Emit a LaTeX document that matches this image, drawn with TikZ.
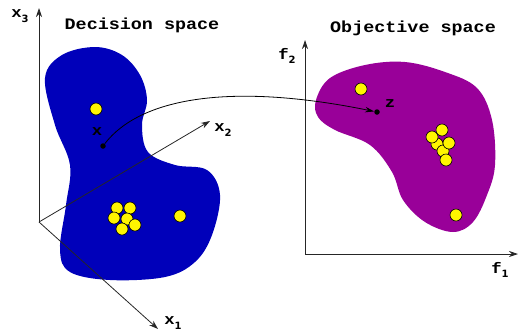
\documentclass[tikz,border=0pt]{standalone}
\usepackage{fontspec}
\setmainfont{Liberation Mono}
\newfontfamily\labfont[FakeStretch=1.15]{Liberation Mono}
\newfontfamily\subfont{DejaVu Sans}
\usetikzlibrary{arrows.meta,positioning,calc}
\definecolor{decblue}{RGB}{0,0,186}
\definecolor{objpurple}{RGB}{153,0,153}
\definecolor{ptyellow}{RGB}{255,245,0}
\tikzset{
  axisln/.style={-{Stealth[length=9pt,width=6pt]}, line width=0.8pt, black!85},
  mapln/.style={-{Stealth[length=9pt,width=5.5pt]}, line width=0.8pt},
  sol/.style={circle, fill=ptyellow, draw=black, line width=0.6pt, minimum size=12pt, inner sep=0pt},
  pick/.style={circle, fill=black, minimum size=5.5pt, inner sep=0pt},
  ttl/.style={font=\labfont\bfseries\fontsize{16}{16}\selectfont},
  axlab/.style={font=\labfont\bfseries\fontsize{15}{15}\selectfont},
}
\newcommand{\axsub}[2]{#1\raisebox{-0.55ex}{\subfont\fontsize{10}{10}\selectfont #2}}

\begin{document}
\begin{tikzpicture}[x=1pt,y=-1pt]
    \useasboundingbox (0,0) rectangle (518,333);
    % ----- decision space -----
    \fill[decblue] plot[smooth cycle, tension=0.6] coordinates {
      (45,78) (62,55) (95,47) (122,55) (140,75) (147,100) (142,125) (148,152)
      (175,165) (207,170) (220,195) (212,235) (195,262) (165,277) (110,280)
      (70,272) (60,250) (66,205) (70,165) (55,125)};
    \coordinate (o3) at (39,222);
    \coordinate (x3tip) at (39,8);
    \coordinate (x2tip) at (210,121);
    \coordinate (x1tip) at (158,329);
    \draw[axisln] (o3) -- (x3tip);
    \draw[axisln] (o3) -- (x2tip);
    \draw[axisln] (o3) -- (x1tip);
    \node[axlab] (x3lab) at (20,16) {\axsub{x}{3}};
    \node[axlab] (x2lab) at (223,130) {\axsub{x}{2}};
    \node[axlab] (x1lab) at (173,323) {\axsub{x}{1}};
    \node[ttl] (dectitle) at (142,25) {Decision space};
    % solutions
    \node[sol] (d0) at (96,109) {};
    \node[sol] (d1) at (117,208) {};
    \node[sol] (d2) at (130,208) {};
    \node[sol] (d3) at (114,218) {};
    \node[sol] (d4) at (127,219) {};
    \node[sol] (d5) at (135,225) {};
    \node[sol] (d6) at (122,229) {};
    \node[sol] (d7) at (180,216) {};
    \node[pick] (xpt) at (103,146) {};
    \node[axlab] (xlab) at (97,132) {x};
    % ----- objective space -----
    \fill[objpurple] plot[smooth cycle, tension=0.6] coordinates {
      (316,100) (330,78) (365,65) (405,62) (445,72) (477,88) (492,120)
      (495,165) (487,195) (473,222) (453,232) (425,222) (403,200) (392,172)
      (370,145) (335,130) (318,117)};
    \coordinate (o2) at (305,254);
    \coordinate (f2tip) at (305,40);
    \coordinate (f1tip) at (518,254);
    \draw[axisln] (o2) -- (f2tip);
    \draw[axisln] (o2) -- (f1tip);
    \node[axlab] (f2lab) at (287,56) {\axsub{f}{2}};
    \node[axlab] (f1lab) at (500,270) {\axsub{f}{1}};
    \node[ttl] (objtitle) at (413,28) {Objective space};
    \node[sol] (z0) at (361,89) {};
    \node[sol] (z1) at (437,144) {};
    \node[sol] (z2) at (443,151) {};
    \node[sol] (z3) at (446,160) {};
    \node[sol] (z4) at (432,137) {};
    \node[sol] (z5) at (449,143) {};
    \node[sol] (z6) at (442,130) {};
    \node[sol] (z7) at (456,215) {};
    \node[pick] (zpt) at (377,112) {};
    \node[axlab] (zlab) at (390,104) {z};
    % ----- mapping -----
    \draw[mapln] (xpt) .. controls (140,98) and (230,82) .. (zpt);
\end{tikzpicture}
\end{document}
